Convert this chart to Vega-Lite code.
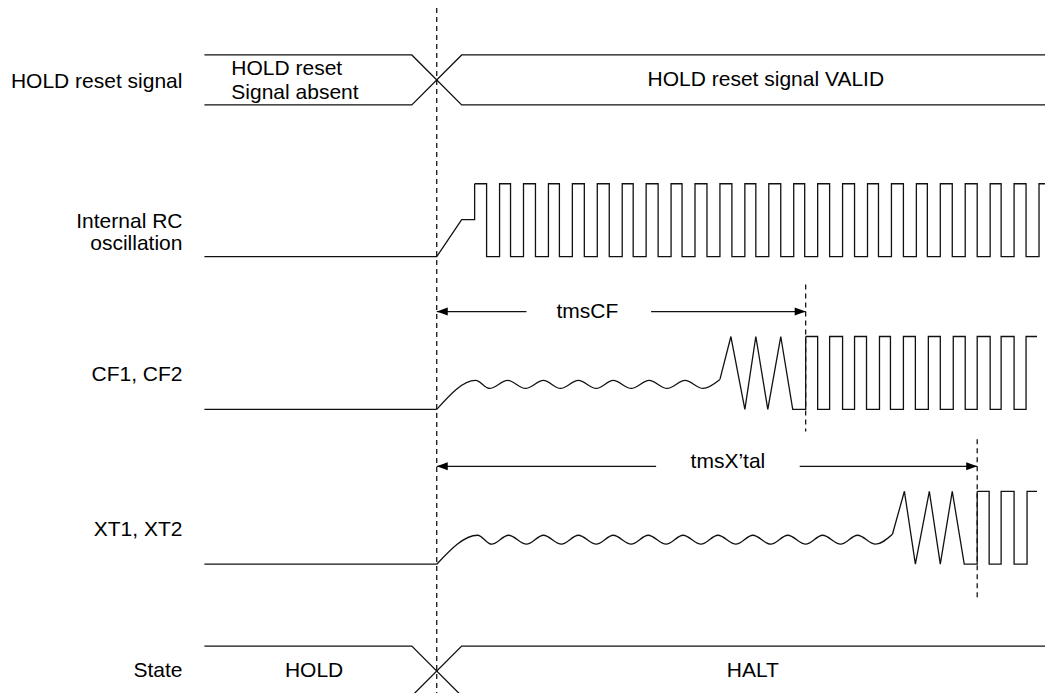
{
  "$schema": "https://vega.github.io/schema/vega-lite/v6.json",
  "width": 1048,
  "height": 694,
  "autosize": {"type": "fit", "contains": "padding"},
  "padding": 0,
  "background": "white",
  "config": {"view": {"stroke": null}},
  "datasets": {
    "edges": [
      {"s": "hold_a", "t": 205, "v": 55}, {"s": "hold_a", "t": 413, "v": 55}, {"s": "hold_a", "t": 463, "v": 105}, {"s": "hold_a", "t": 1048, "v": 105},
      {"s": "hold_b", "t": 205, "v": 105}, {"s": "hold_b", "t": 413, "v": 105}, {"s": "hold_b", "t": 463, "v": 55}, {"s": "hold_b", "t": 1048, "v": 55},
      {"s": "rc0", "t": 205, "v": 257}, {"s": "rc0", "t": 438, "v": 257}, {"s": "rc0", "t": 463, "v": 220}, {"s": "rc0", "t": 476, "v": 220}, {"s": "rc0", "t": 476, "v": 184},
      {"s": "cf0", "t": 205, "v": 410}, {"s": "cf0", "t": 438, "v": 410},
      {"s": "cf1", "t": 722, "v": 380}, {"s": "cf1", "t": 733, "v": 337}, {"s": "cf1", "t": 747, "v": 410}, {"s": "cf1", "t": 758, "v": 337}, {"s": "cf1", "t": 770, "v": 410}, {"s": "cf1", "t": 783, "v": 337}, {"s": "cf1", "t": 795, "v": 410}, {"s": "cf1", "t": 808, "v": 410}, {"s": "cf1", "t": 808, "v": 337},
      {"s": "xt0", "t": 205, "v": 565}, {"s": "xt0", "t": 438, "v": 565},
      {"s": "xt1", "t": 895, "v": 535}, {"s": "xt1", "t": 907, "v": 492}, {"s": "xt1", "t": 918, "v": 565}, {"s": "xt1", "t": 932, "v": 492}, {"s": "xt1", "t": 943, "v": 565}, {"s": "xt1", "t": 955, "v": 492}, {"s": "xt1", "t": 967, "v": 565}, {"s": "xt1", "t": 980, "v": 565}, {"s": "xt1", "t": 980, "v": 492},
      {"s": "st_a", "t": 205, "v": 647}, {"s": "st_a", "t": 413, "v": 647}, {"s": "st_a", "t": 463, "v": 697},
      {"s": "st_b", "t": 413, "v": 697}, {"s": "st_b", "t": 463, "v": 647}, {"s": "st_b", "t": 1048, "v": 647},
      {"s": "tcf_l", "t": 438, "v": 312}, {"s": "tcf_l", "t": 528, "v": 312},
      {"s": "tcf_r", "t": 653, "v": 312}, {"s": "tcf_r", "t": 808, "v": 312},
      {"s": "txt_l", "t": 438, "v": 467}, {"s": "txt_l", "t": 658, "v": 467},
      {"s": "txt_r", "t": 802, "v": 467}, {"s": "txt_r", "t": 980, "v": 467}
    ],
    "ringing": [
      {"s": "cf", "t": 438, "v": 410}, {"s": "cf", "t": 477, "v": 381}, {"s": "cf", "t": 491, "v": 389}, {"s": "cf", "t": 509, "v": 381}, {"s": "cf", "t": 527, "v": 389}, {"s": "cf", "t": 545, "v": 381}, {"s": "cf", "t": 562, "v": 389}, {"s": "cf", "t": 580, "v": 381}, {"s": "cf", "t": 598, "v": 389}, {"s": "cf", "t": 615, "v": 381}, {"s": "cf", "t": 633, "v": 389}, {"s": "cf", "t": 651, "v": 381}, {"s": "cf", "t": 669, "v": 389}, {"s": "cf", "t": 687, "v": 381}, {"s": "cf", "t": 705, "v": 389}, {"s": "cf", "t": 722, "v": 380},
      {"s": "xt", "t": 438, "v": 565}, {"s": "xt", "t": 479, "v": 536}, {"s": "xt", "t": 493, "v": 545}, {"s": "xt", "t": 510, "v": 536}, {"s": "xt", "t": 528, "v": 545}, {"s": "xt", "t": 545, "v": 536}, {"s": "xt", "t": 563, "v": 545}, {"s": "xt", "t": 580, "v": 536}, {"s": "xt", "t": 598, "v": 545}, {"s": "xt", "t": 615, "v": 536}, {"s": "xt", "t": 633, "v": 545}, {"s": "xt", "t": 650, "v": 536}, {"s": "xt", "t": 668, "v": 545}, {"s": "xt", "t": 685, "v": 536}, {"s": "xt", "t": 703, "v": 545}, {"s": "xt", "t": 720, "v": 536}, {"s": "xt", "t": 738, "v": 545}, {"s": "xt", "t": 755, "v": 536}, {"s": "xt", "t": 773, "v": 545}, {"s": "xt", "t": 790, "v": 536}, {"s": "xt", "t": 808, "v": 545}, {"s": "xt", "t": 825, "v": 536}, {"s": "xt", "t": 843, "v": 545}, {"s": "xt", "t": 860, "v": 536}, {"s": "xt", "t": 878, "v": 545}, {"s": "xt", "t": 895, "v": 535}
    ],
    "clocks": [
      {"s": "rc", "t": 476, "v": 184}, {"s": "rc", "t": 488, "v": 257}, {"s": "rc", "t": 501, "v": 184}, {"s": "rc", "t": 512, "v": 257}, {"s": "rc", "t": 525, "v": 184}, {"s": "rc", "t": 537, "v": 257}, {"s": "rc", "t": 550, "v": 184}, {"s": "rc", "t": 561, "v": 257}, {"s": "rc", "t": 574, "v": 184}, {"s": "rc", "t": 586, "v": 257}, {"s": "rc", "t": 599, "v": 184}, {"s": "rc", "t": 611, "v": 257}, {"s": "rc", "t": 624, "v": 184}, {"s": "rc", "t": 635, "v": 257}, {"s": "rc", "t": 648, "v": 184}, {"s": "rc", "t": 660, "v": 257}, {"s": "rc", "t": 673, "v": 184}, {"s": "rc", "t": 684, "v": 257}, {"s": "rc", "t": 697, "v": 184}, {"s": "rc", "t": 709, "v": 257}, {"s": "rc", "t": 722, "v": 184}, {"s": "rc", "t": 734, "v": 257}, {"s": "rc", "t": 747, "v": 184}, {"s": "rc", "t": 758, "v": 257}, {"s": "rc", "t": 771, "v": 184}, {"s": "rc", "t": 783, "v": 257}, {"s": "rc", "t": 796, "v": 184}, {"s": "rc", "t": 807, "v": 257}, {"s": "rc", "t": 820, "v": 184}, {"s": "rc", "t": 832, "v": 257}, {"s": "rc", "t": 845, "v": 184}, {"s": "rc", "t": 857, "v": 257}, {"s": "rc", "t": 870, "v": 184}, {"s": "rc", "t": 881, "v": 257}, {"s": "rc", "t": 894, "v": 184}, {"s": "rc", "t": 906, "v": 257}, {"s": "rc", "t": 919, "v": 184}, {"s": "rc", "t": 930, "v": 257}, {"s": "rc", "t": 943, "v": 184}, {"s": "rc", "t": 955, "v": 257}, {"s": "rc", "t": 968, "v": 184}, {"s": "rc", "t": 980, "v": 257}, {"s": "rc", "t": 993, "v": 184}, {"s": "rc", "t": 1004, "v": 257}, {"s": "rc", "t": 1017, "v": 184}, {"s": "rc", "t": 1029, "v": 257}, {"s": "rc", "t": 1042, "v": 184}, {"s": "rc", "t": 1048, "v": 184},
      {"s": "cf", "t": 808, "v": 337}, {"s": "cf", "t": 820, "v": 410}, {"s": "cf", "t": 832, "v": 337}, {"s": "cf", "t": 845, "v": 410}, {"s": "cf", "t": 857, "v": 337}, {"s": "cf", "t": 869, "v": 410}, {"s": "cf", "t": 882, "v": 337}, {"s": "cf", "t": 893, "v": 410}, {"s": "cf", "t": 906, "v": 337}, {"s": "cf", "t": 918, "v": 410}, {"s": "cf", "t": 931, "v": 337}, {"s": "cf", "t": 943, "v": 410}, {"s": "cf", "t": 956, "v": 337}, {"s": "cf", "t": 968, "v": 410}, {"s": "cf", "t": 980, "v": 337}, {"s": "cf", "t": 993, "v": 410}, {"s": "cf", "t": 1004, "v": 337}, {"s": "cf", "t": 1017, "v": 410}, {"s": "cf", "t": 1029, "v": 337}, {"s": "cf", "t": 1040, "v": 337},
      {"s": "xt", "t": 980, "v": 492}, {"s": "xt", "t": 992, "v": 565}, {"s": "xt", "t": 1004, "v": 492}, {"s": "xt", "t": 1017, "v": 565}, {"s": "xt", "t": 1030, "v": 492}, {"s": "xt", "t": 1040, "v": 492}
    ],
    "guides": [
      {"t": 438, "v": 8, "v2": 694},
      {"t": 808, "v": 285, "v2": 432},
      {"t": 980, "v": 440, "v2": 600}
    ],
    "heads": [
      {"t": 438, "v": 312, "dir": "left"},
      {"t": 808, "v": 312, "dir": "right"},
      {"t": 438, "v": 467, "dir": "left"},
      {"t": 980, "v": 467, "dir": "right"}
    ],
    "labels": [
      {"kind": "row", "t": 183, "v": 82, "text": "HOLD reset signal"},
      {"kind": "row", "t": 183, "v": 222, "text": "Internal RC"},
      {"kind": "row", "t": 183, "v": 244, "text": "oscillation"},
      {"kind": "row", "t": 183, "v": 376, "text": "CF1, CF2"},
      {"kind": "row", "t": 183, "v": 531, "text": "XT1, XT2"},
      {"kind": "row", "t": 183, "v": 672, "text": "State"},
      {"kind": "note", "t": 232, "v": 69, "text": "HOLD reset"},
      {"kind": "note", "t": 232, "v": 93, "text": "Signal absent"},
      {"kind": "bus", "t": 768, "v": 80, "text": "HOLD reset signal VALID"},
      {"kind": "bus", "t": 589, "v": 312, "text": "tmsCF"},
      {"kind": "bus", "t": 730, "v": 463, "text": "tmsX’tal"},
      {"kind": "bus", "t": 315, "v": 672, "text": "HOLD"},
      {"kind": "bus", "t": 755, "v": 672, "text": "HALT"}
    ]
  },
  "encoding": {
    "x": {"field": "t", "type": "quantitative", "axis": null, "scale": {"domain": [0, 1048], "nice": false, "zero": false}},
    "y": {"field": "v", "type": "quantitative", "axis": null, "scale": {"domain": [0, 694], "nice": false, "reverse": true}}
  },
  "layer": [
    {
      "data": {"name": "guides"},
      "mark": {"type": "rule", "color": "#000", "strokeWidth": 1.2, "strokeDash": [5, 4]},
      "encoding": {"y2": {"field": "v2"}}
    },
    {
      "data": {"name": "edges"},
      "mark": {"type": "line", "color": "#111", "strokeWidth": 1.3, "clip": true},
      "encoding": {"detail": {"field": "s"}, "order": {"value": null}}
    },
    {
      "data": {"name": "ringing"},
      "mark": {"type": "line", "color": "#111", "strokeWidth": 1.3, "interpolate": "monotone"},
      "encoding": {"detail": {"field": "s"}, "order": {"value": null}}
    },
    {
      "data": {"name": "clocks"},
      "mark": {"type": "line", "color": "#111", "strokeWidth": 1.3, "interpolate": "step-after"},
      "encoding": {"detail": {"field": "s"}, "order": {"value": null}}
    },
    {
      "data": {"name": "heads"},
      "mark": {"type": "point", "filled": true, "color": "#000", "size": 100, "opacity": 1, "strokeWidth": 0},
      "encoding": {
        "shape": {"field": "dir", "type": "nominal", "legend": null,
          "scale": {"domain": ["left", "right"], "range": ["M0,0L2.2,-0.8L2.2,0.8Z", "M0,0L-2.2,-0.8L-2.2,0.8Z"]}}
      }
    },
    {
      "data": {"name": "labels"},
      "transform": [{"filter": "datum.kind == 'row'"}],
      "mark": {"type": "text", "align": "right", "baseline": "middle", "font": "Liberation Sans", "fontSize": 21, "color": "#000"},
      "encoding": {"text": {"field": "text"}}
    },
    {
      "data": {"name": "labels"},
      "transform": [{"filter": "datum.kind == 'note'"}],
      "mark": {"type": "text", "align": "left", "baseline": "middle", "font": "Liberation Sans", "fontSize": 21, "color": "#000"},
      "encoding": {"text": {"field": "text"}}
    },
    {
      "data": {"name": "labels"},
      "transform": [{"filter": "datum.kind == 'bus'"}],
      "mark": {"type": "text", "align": "center", "baseline": "middle", "font": "Liberation Sans", "fontSize": 21, "color": "#000"},
      "encoding": {"text": {"field": "text"}}
    }
  ]
}
